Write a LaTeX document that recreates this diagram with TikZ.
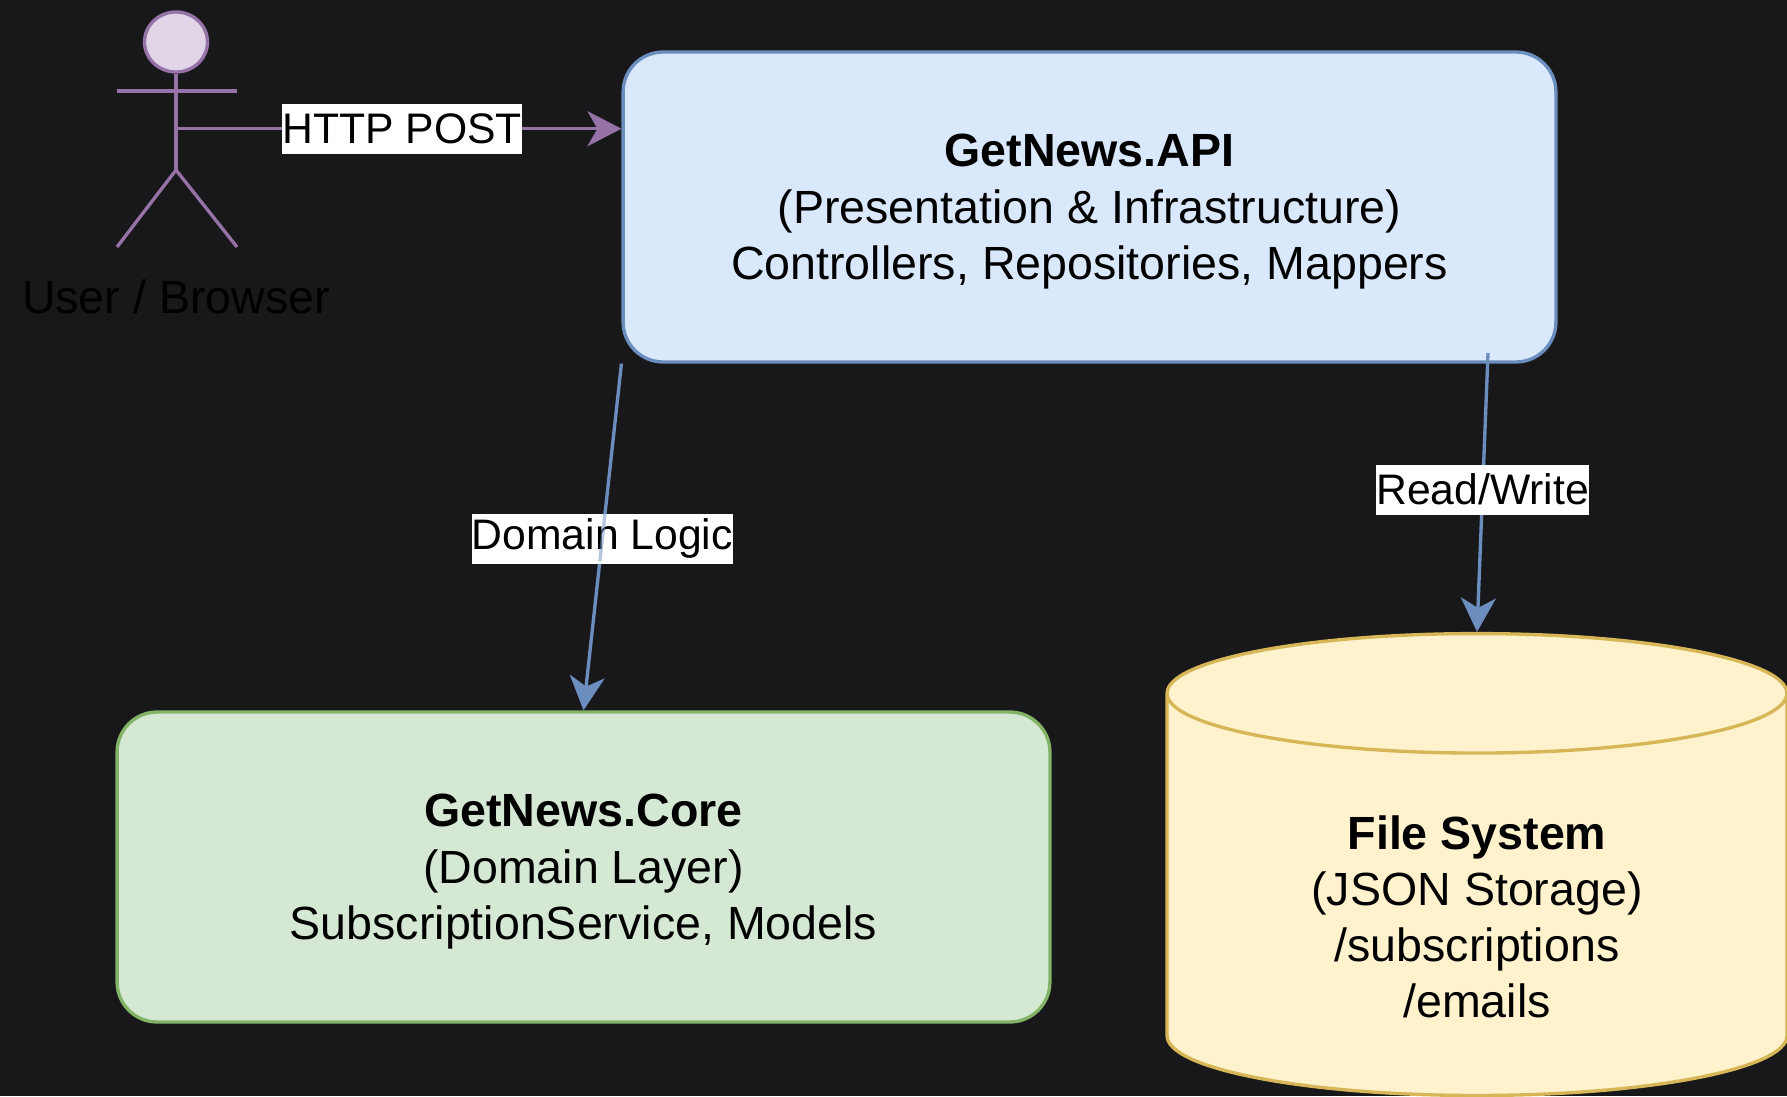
\documentclass[tikz,border=0pt]{standalone}
\usepackage{fontspec}
\setmainfont{Liberation Sans}
\usetikzlibrary{shapes.geometric,arrows.meta}
\definecolor{pagebg}{HTML}{18181B}
\definecolor{apifill}{HTML}{DAE8FC}
\definecolor{apiline}{HTML}{6C8EBF}
\definecolor{corefill}{HTML}{D5E8D4}
\definecolor{coreline}{HTML}{82B366}
\definecolor{storefill}{HTML}{FFF2CC}
\definecolor{storeline}{HTML}{D6B656}
\definecolor{userfill}{HTML}{E1D5E7}
\definecolor{userline}{HTML}{9673A6}
\newcommand{\boxhead}[1]{\rule{0pt}{.84cm}\textbf{#1}}

\begin{document}
\begin{tikzpicture}
[ x=0.02cm, y=-0.02cm, line width=1.9pt
, box/.style={rectangle, rounded corners=0.8cm, minimum width=18.66cm, minimum height=6.2cm, draw, text=black, align=center, font=\fontsize{26.5}{32}\selectfont}
, store/.style={cylinder, shape border rotate=90, aspect=10.2, minimum width=12.4cm, minimum height=9.24cm, draw=storeline, fill=storefill}
, flow/.style={-{Stealth[length=0.68cm, width=0.7cm, inset=0.2cm]}}
, edgelabel/.style={fill=white, text=black, inner xsep=0pt, inner ysep=0pt, minimum height=1cm, font=\fontsize{24.3}{29}\selectfont}
]
% page
\fill [pagebg] (0,0) rectangle (1787,1096);
\useasboundingbox (0,0) rectangle (1787,1096);
\clip (0,0) rectangle (1787,1096);
% boxes
\node (api) [box, draw=apiline, fill=apifill] at (1089.5,207) {\boxhead{GetNews.API}\\(Presentation \& Infrastructure)\\Controllers, Repositories, Mappers};
\node (core) [box, draw=coreline, fill=corefill] at (583.5,867) {\boxhead{GetNews.Core}\\(Domain Layer)\\SubscriptionService, Models};
\node (fs) [store] at (1477,901) {};
\node (fstext) [text=black, align=center, font=\fontsize{26.5}{32}\selectfont] at (1477,917) {\textbf{File System}\\(JSON Storage)\\/subscriptions\\/emails};
% actor
\node (head) [ellipse, minimum width=1.26cm, minimum height=1.2cm, inner sep=0pt, draw=userline, fill=userfill] at (176,42) {};
\coordinate (hip) at (176,170);
\coordinate (handl) at (117,91);
\coordinate (handr) at (237,91);
\coordinate (footl) at (117,247);
\coordinate (footr) at (237,247);
\coordinate (belly) at (176,128.7);
\draw [userline] (head) -- (hip);
\draw [userline] (handl) -- (handr);
\draw [userline] (footl) -- (hip) -- (footr);
\node (user) [text=black, font=\fontsize{26.5}{32}\selectfont] at (176,297) {User / Browser};
% connectors
\coordinate (rwstart) at (1488,353);
\coordinate (apileft) at (api.west |- belly);
\draw [flow, userline] (belly) -- node (post) [edgelabel, pos=.508] {HTTP POST} (apileft);
\draw [flow, apiline] (api.south west) -- node (logic) [edgelabel, pos=.505] {Domain Logic} (core.north);
\draw [flow, apiline] (rwstart) -- node (rw) [edgelabel, pos=.49] {Read/Write} (fs.north);
% the domain line shows faintly through its label
\draw [apiline, opacity=.5, shorten <=3.02cm, shorten >=3cm] (api.south west) -- (core.north);
\end{tikzpicture}
\end{document}
